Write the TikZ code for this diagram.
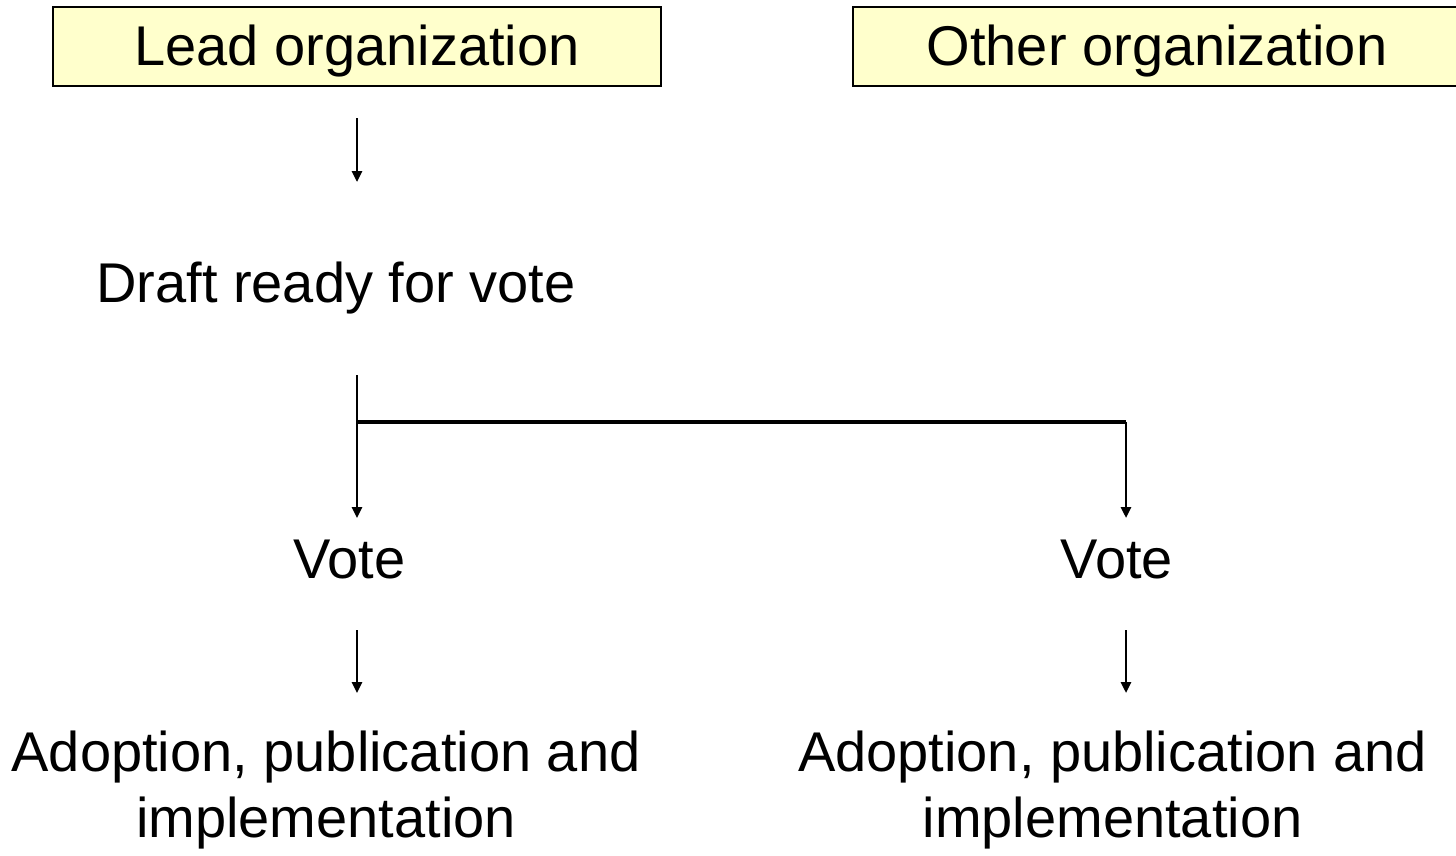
\documentclass[tikz,border=0pt]{standalone}
\usepackage{fontspec}
\setmainfont{Liberation Sans}
\usetikzlibrary{arrows.meta}
\definecolor{boxfill}{HTML}{FFFFCC}
\begin{document}
\begin{tikzpicture}[x=1pt,y=-1pt,
  every node/.style={font=\fontsize{56}{66}\selectfont, inner sep=0pt, outer sep=0pt},
  orgbox/.style={draw=black, line width=2.5pt, fill=boxfill, minimum width=608pt, minimum height=79pt, text height=40.5pt, text depth=3.5pt},
  txtnode/.style={text height=40pt, text depth=12pt, anchor=base},
  outcome/.style={align=center, anchor=north},
  conn/.style={line width=2.6pt, -{Triangle[length=11pt,width=10pt]}},
  splitbar/.style={line width=3.6pt}]
\clip (0,0) rectangle (1456,855);
\node[orgbox] (lead) at (357,46.5) {Lead organization};
\node[orgbox] (other) at (1157,46.5) {Other organization};
\node[txtnode] (draft) at (336,302) {Draft ready for vote};
\node[txtnode] (vote1) at (349.5,578) {Vote};
\node[txtnode] (vote2) at (1117,578) {Vote};
\node[outcome] (adopt1) at (326,731) {Adoption, publication and\\implementation};
\node[outcome] (adopt2) at (1112.5,731) {Adoption, publication and\\implementation};
\coordinate (split) at (357,422);
\coordinate (corner) at (1126,422);
\draw[conn, shorten <=32pt, shorten >=80pt] (lead.south) -- (lead.south |- draft.north);
\draw[conn, shorten <=61pt, shorten >=20pt] (lead.south |- draft.south) -- (lead.south |- vote1.north);
\draw[splitbar] (split) -- (corner);
\draw[conn, shorten >=20pt] (corner) -- (corner |- vote2.north);
\draw[conn, shorten <=40pt, shorten >=38pt] (lead.south |- vote1.south) -- (lead.south |- adopt1.north);
\draw[conn, shorten <=40pt, shorten >=38pt] (corner |- vote2.south) -- (corner |- adopt2.north);
\end{tikzpicture}
\end{document}
